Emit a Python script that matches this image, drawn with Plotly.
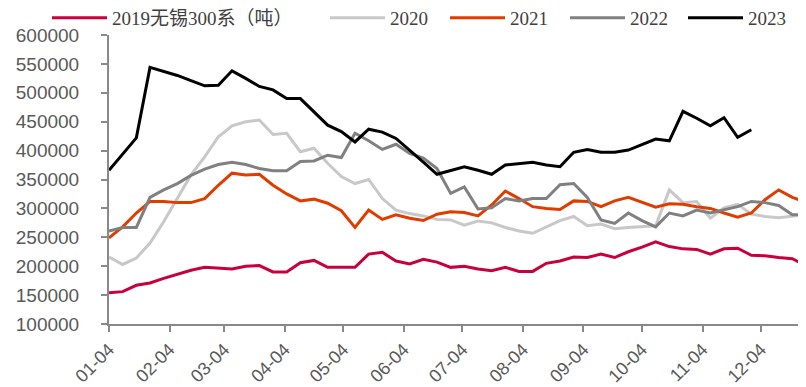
import plotly.graph_objects as go

weeks = ["2001-01-04", "2001-01-11", "2001-01-18", "2001-01-25", "2001-02-01", "2001-02-08",
         "2001-02-15", "2001-02-22", "2001-03-01", "2001-03-08", "2001-03-15", "2001-03-22",
         "2001-03-29", "2001-04-05", "2001-04-12", "2001-04-19", "2001-04-26", "2001-05-03",
         "2001-05-10", "2001-05-17", "2001-05-24", "2001-05-31", "2001-06-07", "2001-06-14",
         "2001-06-21", "2001-06-28", "2001-07-05", "2001-07-12", "2001-07-19", "2001-07-26",
         "2001-08-02", "2001-08-09", "2001-08-16", "2001-08-23", "2001-08-30", "2001-09-06",
         "2001-09-13", "2001-09-20", "2001-09-27", "2001-10-04", "2001-10-11", "2001-10-18",
         "2001-10-25", "2001-11-01", "2001-11-08", "2001-11-15", "2001-11-22", "2001-11-29",
         "2001-12-06", "2001-12-13", "2001-12-20", "2001-12-27"]

y2019 = [154000, 156000, 167000, 171000, 179000, 186000, 193000, 198000, 196000, 195000,
         200000, 201000, 190000, 190000, 206000, 210000, 198000, 198000, 198000, 221000,
         224000, 209000, 204000, 212000, 207000, 198000, 200000, 195000, 192000, 198000,
         191000, 191000, 205000, 209000, 216000, 215000, 221000, 215000, 225000, 233000,
         242000, 234000, 230000, 229000, 221000, 230000, 231000, 219000, 218000, 215000,
         213000, 201000]

y2020 = [216000, 203000, 214000, 240000, 277000, 317000, 358000, 389000, 424000, 443000,
         450000, 453000, 428000, 430000, 398000, 404000, 378000, 355000, 343000, 350000,
         317000, 297000, 291000, 287000, 281000, 280000, 271000, 278000, 275000, 267000,
         261000, 257000, 268000, 279000, 286000, 270000, 273000, 265000, 267000, 268000,
         270000, 332000, 310000, 312000, 283000, 301000, 307000, 290000, 286000, 284000,
         286000, 289000]

y2021 = [249000, 268000, 292000, 312000, 312000, 310000, 310000, 317000, 340000, 361000,
         358000, 359000, 340000, 325000, 313000, 316000, 309000, 296000, 267000, 297000,
         281000, 289000, 283000, 279000, 290000, 294000, 293000, 287000, 306000, 330000,
         317000, 303000, 300000, 298000, 313000, 312000, 303000, 313000, 319000, 310000,
         302000, 308000, 307000, 303000, 300000, 292000, 285000, 292000, 315000, 332000,
         319000, 311000]

y2022 = [261000, 267000, 267000, 319000, 332000, 343000, 357000, 368000, 376000, 380000,
         376000, 369000, 365000, 365000, 381000, 382000, 392000, 388000, 430000, 417000,
         402000, 411000, 395000, 387000, 369000, 326000, 337000, 299000, 301000, 317000,
         313000, 317000, 317000, 341000, 343000, 319000, 280000, 274000, 292000, 279000,
         268000, 292000, 287000, 297000, 292000, 297000, 303000, 312000, 310000, 305000,
         289000, 289000]

y2023 = [366000, 394000, 422000, 544000, 537000, 530000, 521000, 512000, 513000, 538000,
         525000, 511000, 505000, 490000, 490000, 467000, 444000, 433000, 415000, 437000,
         432000, 421000, 401000, 380000, 359000, 366000, 372000, 366000, 359000, 375000,
         378000, 380000, 375000, 372000, 397000, 402000, 397000, 397000, 401000, 410000,
         420000, 417000, 468000, 456000, 443000, 457000, 423000, 436000]

series_names = ["2019无锡300系（吨）", "2020", "2021", "2022", "2023"]
series_values = [y2019, y2020, y2021, y2022, y2023]
colors = ["#C8003C", "#C8C8C8", "#E03C00", "#808080", "#000000"]
legend_ids = ["legend", "legend2", "legend3", "legend4", "legend5"]
legend_px = [47, 325, 445, 565, 683]   # page x of each legend entry

# the page places the figure 8px in from the top-left (browser body margin)
OFF = 8
W, H = 806, 387
L, R, T, B = 109 - OFF, OFF, 35 - OFF, 63 + OFF
pw = W - L - R
ph = H - T - B

fig = go.Figure()
for name, vals, c, lid in zip(series_names, series_values, colors, legend_ids):
    fig.add_trace(go.Scatter(
        x=weeks[:len(vals)], y=vals, mode="lines", name=name,
        line=dict(color=c, width=3), legend=lid,
    ))

legend_font = dict(family="Times New Roman, Liberation Serif, Noto Sans CJK SC", size=19, color="#404040")
legend_y = 1 + (35 - 18) / ph
layout_legends = {}
for lid, px in zip(legend_ids, legend_px):
    layout_legends[lid] = dict(
        x=(px - 109) / pw, xanchor="left", y=legend_y, yanchor="middle",
        orientation="h", font=legend_font, bgcolor="rgba(0,0,0,0)",
        itemwidth=55, borderwidth=0,
    )

fig.update_layout(
    width=W, height=H,
    margin=dict(l=L, r=R, t=T, b=B, autoexpand=False),
    paper_bgcolor="white", plot_bgcolor="white",
    showlegend=True,
    **layout_legends,
)

y_font = dict(family="Arial, Liberation Sans, sans-serif", size=19, color="#595959")
x_font = dict(family="Arial, Liberation Sans, sans-serif", size=18, color="#595959")
fig.update_xaxes(
    type="date", range=["2001-01-04", "2001-12-27"],
    tick0="2001-01-04", dtick="M1", tickformat="%m-%d",
    tickangle=-45, tickfont=x_font, automargin=False,
    showgrid=False, zeroline=False,
    showline=True, linecolor="#898989", linewidth=2,
    ticks="outside", ticklen=6, tickwidth=2, tickcolor="#898989",
    ticklabelstandoff=0,
)
fig.update_yaxes(
    range=[100000, 600000], dtick=50000, tickformat="d",
    tickfont=y_font, showgrid=False, zeroline=False, automargin=False,
    showline=True, linecolor="#898989", linewidth=2,
    ticks="outside", ticklen=6, tickwidth=2, tickcolor="#898989",
    ticklabelstandoff=18,
)

fig.write_html("out.html")
